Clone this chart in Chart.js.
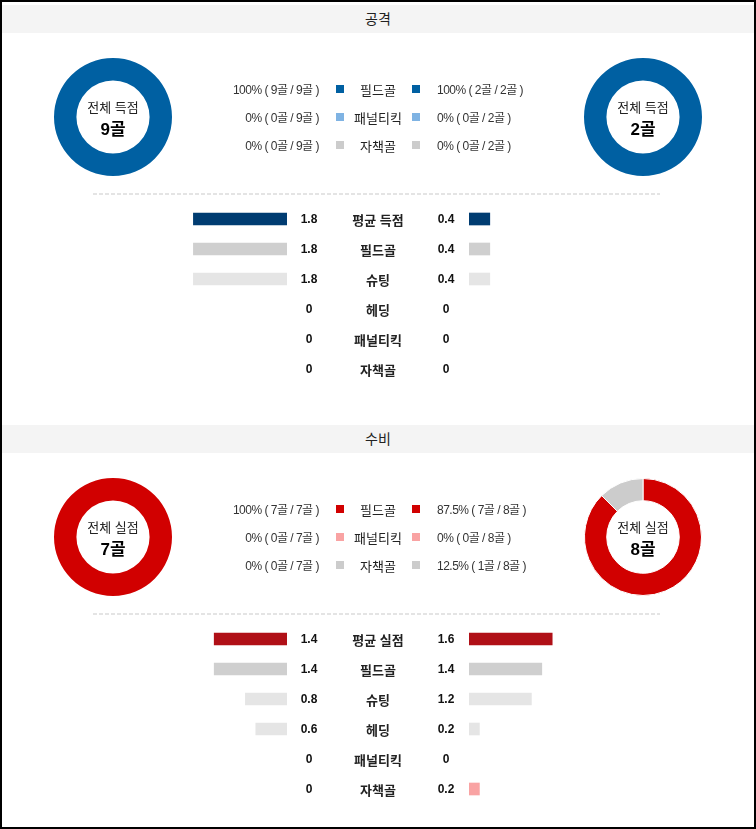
<!DOCTYPE html>
<html>
<head>
<meta charset="utf-8">
<script src="https://cdn.jsdelivr.net/npm/chart.js@4"></script>
<style>
  body { margin: 0; position: relative; width: 756px; height: 829px; background: #fff;
         font-family: "Liberation Sans", Arial, "Noto Sans CJK KR", sans-serif; color: #222; }
  .frame { position: absolute; left: 0; top: 0; width: 756px; height: 829px; box-sizing: border-box; border: 2px solid #000; }
  .head { position: absolute; left: 2px; width: 752px; height: 28px; line-height: 28px; background: #f4f4f4;
          text-align: center; font-size: 14px; color: #222; }
  .abs { position: absolute; white-space: nowrap; }
  .dash { position: absolute; left: 93px; width: 567px; height: 2px;
          background: repeating-linear-gradient(90deg, #e4e4e4 0 4px, transparent 4px 6px); }
  .sq { position: absolute; width: 8px; height: 8px; }
  .pct { font-size: 12px; color: #333; letter-spacing: -0.5px; }
  .center1 { font-size: 13px; color: #222; }
  .center2 { font-size: 17px; font-weight: bold; color: #000; }
</style>
</head>
<body>
<div class="frame"></div>
<script>
// categories
const goalTypes = ['필드골', '패널티킥', '자책골'];
const statLabels = ['평균 득점', '필드골', '슈팅', '헤딩', '패널티킥', '자책골'];
const statLabelsDef = ['평균 실점', '필드골', '슈팅', '헤딩', '패널티킥', '자책골'];

// donut values (goals by type)
const scoredHome = [9, 0, 0];
const scoredAway = [2, 0, 0];
const concededHome = [7, 0, 0];
const concededAway = [7, 0, 1];

// per-game averages (bars)
const attackHome = [1.8, 1.8, 1.8, 0, 0, 0];
const attackAway = [0.4, 0.4, 0.4, 0, 0, 0];
const defenseHome = [1.4, 1.4, 0.8, 0.6, 0, 0];
const defenseAway = [1.6, 1.4, 1.2, 0.2, 0, 0.2];

const blueTypes = ['#0060a2', '#7fb3e3', '#cccccc'];
const redTypes = ['#d10000', '#f9a3a3', '#cccccc'];
const blueBars = ['#003c71', '#cfcfcf', '#e5e5e5', '#e5e5e5', '#7fb3e3', '#cfcfcf'];
const redBars = ['#b01017', '#cfcfcf', '#e5e5e5', '#e5e5e5', '#f9a3a3', '#f9a3a3'];

function el(tag, cls, css, text) {
  const e = document.createElement(tag);
  if (cls) e.className = cls;
  Object.assign(e.style, css || {});
  if (text != null) e.textContent = text;
  document.body.appendChild(e);
  return e;
}

function donut(cx, cy, values, colors, title) {
  const size = 118;
  const total = values.reduce((a, b) => a + b, 0);
  const c = el('canvas', null, { position: 'absolute', left: (cx - size / 2) + 'px', top: (cy - size / 2) + 'px' });
  c.width = size; c.height = size;
  new Chart(c, {
    type: 'doughnut',
    data: { labels: goalTypes, datasets: [{ data: values, backgroundColor: colors, borderColor: '#fff',
      borderWidth: ctx => (ctx.raw > 0 && ctx.raw < total) ? 1 : 0 }] },
    options: { responsive: false, animation: false, devicePixelRatio: 1, cutout: '62%',
      plugins: { legend: { display: false }, tooltip: { enabled: false } } }
  });
  el('div', 'abs center1', { left: (cx - 40) + 'px', width: '80px', textAlign: 'center', top: (cy - 20) + 'px' }, title);
  el('div', 'abs center2', { left: (cx - 40) + 'px', width: '80px', textAlign: 'center', top: (cy - 2) + 'px' }, total + '골');
}

function legend(y0, home, away, colors) {
  const th = home.reduce((a, b) => a + b, 0);
  const ta = away.reduce((a, b) => a + b, 0);
  const pct = (v, t) => +(v / t * 100).toFixed(1) + '%';
  goalTypes.forEach((g, i) => {
    const y = y0 + i * 28;
    el('div', 'abs pct', { right: (756 - 319) + 'px', top: (y - 9) + 'px' },
      pct(home[i], th) + ' ( ' + home[i] + '골 / ' + th + '골 )');
    el('div', 'sq', { left: '336px', top: (y - 4) + 'px', background: colors[i] });
    el('div', 'abs', { left: '328px', width: '100px', textAlign: 'center', top: (y - 9) + 'px', fontSize: '13px', color: '#222' }, g);
    el('div', 'sq', { left: '412px', top: (y - 4) + 'px', background: colors[i] });
    el('div', 'abs pct', { left: '437px', top: (y - 9) + 'px' },
      pct(away[i], ta) + ' ( ' + away[i] + '골 / ' + ta + '골 )');
  });
}

function bars(top, home, away, labels, colors) {
  const w = 200, h = 180, max = w / 52;
  const mk = (left, vals, reverse) => {
    const c = el('canvas', null, { position: 'absolute', left: left + 'px', top: top + 'px' });
    c.width = w; c.height = h;
    new Chart(c, {
      type: 'bar',
      data: { labels: labels, datasets: [{ data: vals.map(v => v || null), backgroundColor: colors, borderWidth: 0, barThickness: 12 }] },
      options: { indexAxis: 'y', responsive: false, animation: false, devicePixelRatio: 1,
        layout: { padding: 0 },
        plugins: { legend: { display: false }, tooltip: { enabled: false } },
        scales: { x: { display: false, min: 0, max: max, reverse: reverse }, y: { display: false } } }
    });
  };
  mk(287 - w, home, true);
  mk(469, away, false);
  labels.forEach((lab, i) => {
    const y = top + 15 + i * 30;
    el('div', 'abs', { left: '279px', width: '60px', textAlign: 'center', top: (y - 7) + 'px', fontSize: '12px', fontWeight: 'bold', color: '#111' }, String(home[i]));
    el('div', 'abs', { left: '318px', width: '120px', textAlign: 'center', top: (y - 9) + 'px', fontSize: '13px', fontWeight: 'bold', color: '#222' }, lab);
    el('div', 'abs', { left: '416px', width: '60px', textAlign: 'center', top: (y - 7) + 'px', fontSize: '12px', fontWeight: 'bold', color: '#111' }, String(away[i]));
  });
}

// 공격
el('div', 'head', { top: '5px' }, '공격');
donut(113, 117, scoredHome, blueTypes, '전체 득점');
donut(643, 117, scoredAway, blueTypes, '전체 득점');
legend(89, scoredHome, scoredAway, blueTypes);
el('div', 'dash', { top: '193px' });
bars(204, attackHome, attackAway, statLabels, blueBars);

// 수비
el('div', 'head', { top: '425px' }, '수비');
donut(113, 537, concededHome, redTypes, '전체 실점');
donut(643, 537, concededAway, redTypes, '전체 실점');
legend(509, concededHome, concededAway, redTypes);
el('div', 'dash', { top: '613px' });
bars(624, defenseHome, defenseAway, statLabelsDef, redBars);
</script>
</body>
</html>
